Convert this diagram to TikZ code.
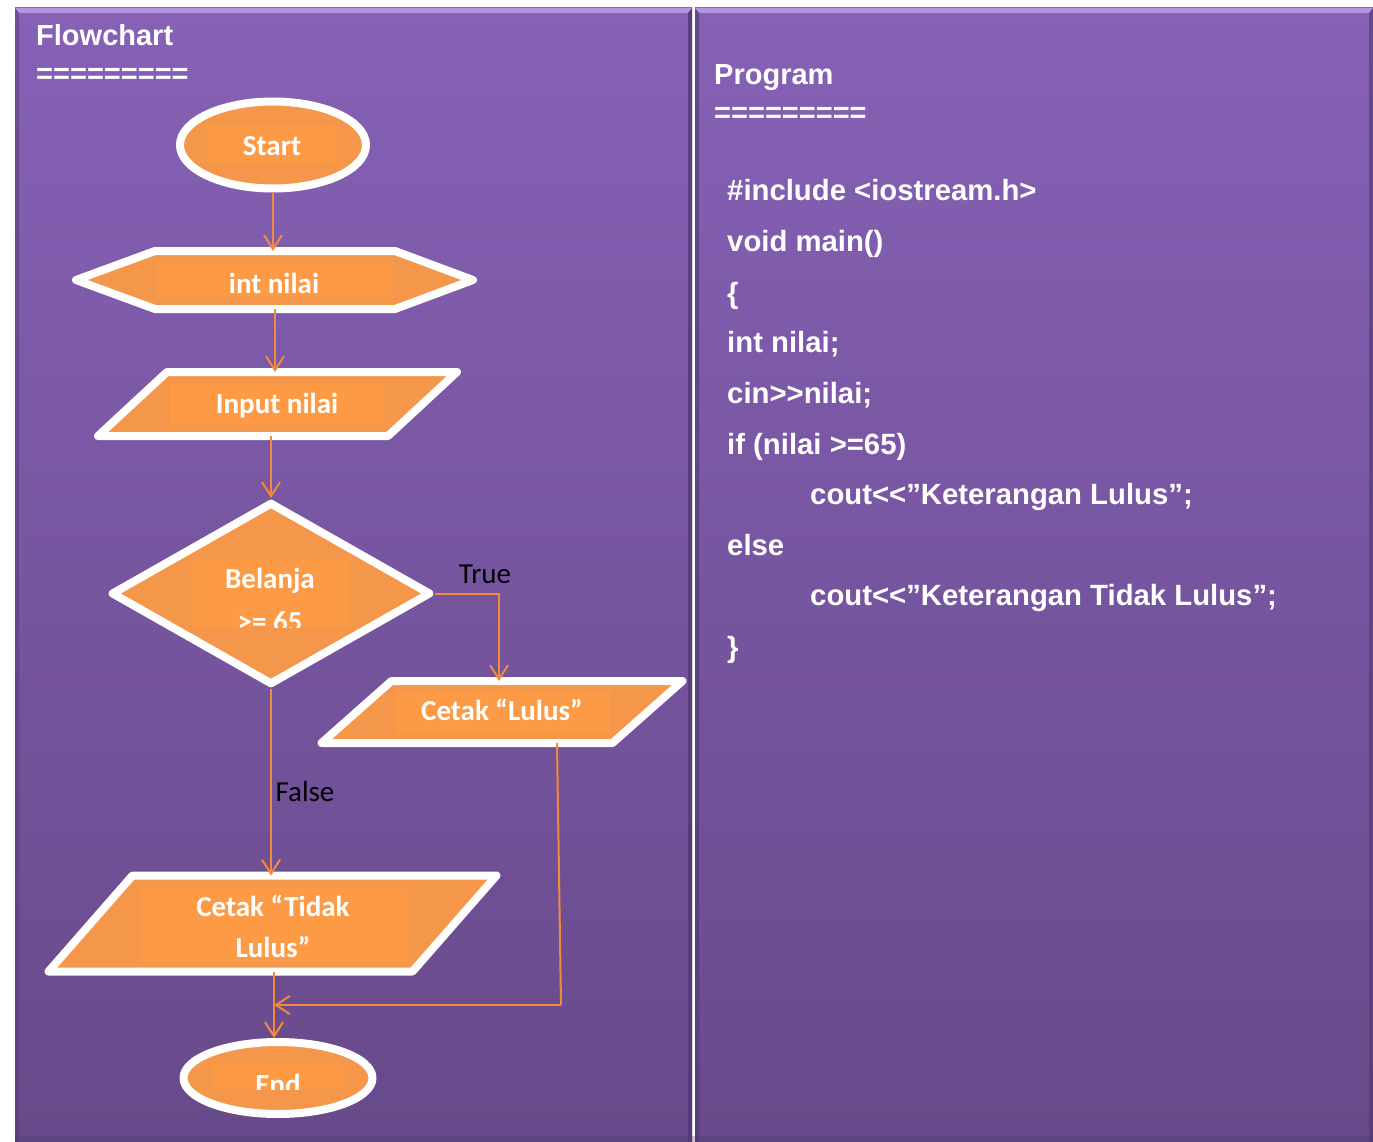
\documentclass[tikz,border=0pt]{standalone}
\usepackage{fontspec}
\setmainfont{Carlito}
\newfontfamily\codefont{Liberation Sans}
\usetikzlibrary{shapes.geometric,arrows.meta,calc}

\definecolor{panelTop}{HTML}{8661B6}
\definecolor{panelBot}{HTML}{674A8A}
\definecolor{panelEdge}{HTML}{4F3872}
\definecolor{bevel}{HTML}{B592E4}
\definecolor{shapeFill}{HTML}{F5974A}
\definecolor{boxFill}{HTML}{FC9A45}
\definecolor{flowLine}{HTML}{F3893A}

\pgfdeclarelayer{panel}
\pgfdeclarelayer{shapes}
\pgfsetlayers{panel,shapes,main}

\tikzset{
  outline/.style={draw=white, line width=8pt, fill=shapeFill, line join=round},
  body/.style={rectangle, inner sep=0pt, outer sep=0pt, draw=none},
  textbox/.style={fill=boxFill},
  flabel/.style={font=\fontsize{29}{34}\selectfont\bfseries, text=white,
    inner sep=0pt, text height=18.5pt, text depth=0pt},
  blabel/.style={font=\fontsize{29}{34}\selectfont, text=black,
    inner sep=0pt, text height=18.5pt, text depth=0pt},
  head/.style={font=\codefont\bfseries\fontsize{29}{34}\selectfont, text=white,
    anchor=west, inner sep=0pt, text height=20.5pt, text depth=0pt},
  code/.style={font=\codefont\bfseries\fontsize{29.3}{34}\selectfont, text=white,
    anchor=west, inner sep=0pt, text height=21pt, text depth=0pt},
  flow/.style={draw=flowLine, line width=2pt, -{Straight Barb[length=14pt,width=18pt]}},
  flowplain/.style={draw=flowLine, line width=2pt},
}

\begin{document}
\begin{tikzpicture}[x=1pt, y=-1pt]
\useasboundingbox (0,0) rectangle (1373,1142);

% ---- two panels ----
\begin{pgfonlayer}{panel}
  \fill[white] (0,0) rectangle (1373,1142);
  \shade[top color=panelTop, bottom color=panelBot] (15,8) rectangle (692,1142);
  \shade[top color=panelTop, bottom color=panelBot] (695,8) rectangle (1373,1142);
  % bevelled edges
  \fill[bevel] (15,8) -- (692,8) -- (688,13) -- (19,13) -- cycle;
  \fill[bevel] (695,8) -- (1373,8) -- (1369,13) -- (699,13) -- cycle;
  \fill[panelEdge, opacity=.45] (15,8) -- (19,13) -- (19,1142) -- (15,1142) -- cycle;
  \fill[panelEdge, opacity=.8] (688,13) -- (692,8) -- (692,1142) -- (688,1142) -- cycle;
  \fill[panelEdge, opacity=.6] (695,8) -- (699,13) -- (699,1142) -- (695,1142) -- cycle;
  \fill[panelEdge, opacity=.6] (1369,13) -- (1373,8) -- (1373,1142) -- (1369,1142) -- cycle;
  \fill[panelEdge, opacity=.3] (15,1136) rectangle (1373,1142);
\end{pgfonlayer}

% ---- headings ----
\node[head] (h-flow) at (36,35) {Flowchart};
\node[head] (h-flowrule) at (36,73) {=========};
\node[head] (h-prog) at (714,74) {Program};
\node[head] (h-progrule) at (714,112) {=========};

% ---- program listing ----
\node[code] (c1) at (727,190) {\#include <iostream.h>};
\node[code] (c2) at (727,241) {void main()};
\node[code] (c3) at (727,293) {\{};
\node[code] (c4) at (727,342) {int nilai;};
\node[code] (c5) at (727,393) {cin>>nilai;};
\node[code] (c6) at (727,444) {if (nilai >=65)};
\node[code] (c7) at (810,494) {cout<<”Keterangan Lulus”;};
\node[code] (c8) at (727,545) {else};
\node[code] (c9) at (810,595) {cout<<”Keterangan Tidak Lulus”;};
\node[code] (c10) at (727,647) {\}};

% ---- flowchart shapes ----
\node[ellipse, outline, minimum width=186pt, minimum height=87pt, inner sep=0pt] (start) at (273,145) {};
\node[body, minimum width=240pt, minimum height=58pt] (hex) at (275,280) {};
\node[body, minimum width=290pt, minimum height=64pt] (input) at (277.5,404) {};
\node[diamond, outline, minimum width=320pt, minimum height=183pt, inner sep=0pt] (cond) at (271,593.5) {};
\node[body, minimum width=291pt, minimum height=62pt] (lulus) at (502,712) {};
\node[body, minimum width=364pt, minimum height=96pt] (tidak) at (272.5,923.5) {};
\node[ellipse, outline, minimum width=189pt, minimum height=72pt, inner sep=0pt] (stop) at (278,1078) {};

\begin{pgfonlayer}{shapes}
  \draw[outline] (hex.north west) -- (hex.north east) -- ([xshift=78pt]hex.east)
    -- (hex.south east) -- (hex.south west) -- ([xshift=-79pt]hex.west) -- cycle;
  \draw[outline] ([xshift=34.5pt]input.north west) -- ([xshift=34.5pt]input.north east)
    -- ([xshift=-34.5pt]input.south east) -- ([xshift=-34.5pt]input.south west) -- cycle;
  \draw[outline] ([xshift=35pt]lulus.north west) -- ([xshift=35pt]lulus.north east)
    -- ([xshift=-35pt]lulus.south east) -- ([xshift=-35pt]lulus.south west) -- cycle;
  \draw[outline] ([xshift=42pt]tidak.north west) -- ([xshift=42pt]tidak.north east)
    -- ([xshift=-42pt]tidak.south east) -- ([xshift=-42pt]tidak.south west) -- cycle;
\end{pgfonlayer}

% text boxes inside the shapes
\fill[textbox] (207,126) rectangle (337,163);
\fill[textbox] (157,263) rectangle (392,297);
\fill[textbox] (170,384) rectangle (384,425);
\fill[textbox] (193,559) rectangle (349,627);
\fill[textbox] (396,691) rectangle (610,733);
\fill[textbox] (141,887) rectangle (407,962);
\fill[textbox] (213,1064) rectangle (344,1089);

% ---- shape texts ----
\node[flabel] (t-start) at (272,146) {Start};
\node[flabel] (t-hex) at (274,284) {int nilai};
\node[flabel] (t-input) at (277,404) {Input nilai};
\node[flabel] (t-cond1) at (270,579) {Belanja};
\begin{scope}
  \clip (193,559) rectangle (349,627);
  \node[flabel] (t-cond2) at (270,622) {>= 65};
\end{scope}
\node[flabel] (t-lulus) at (502,711) {Cetak “Lulus”};
\node[flabel] (t-tidak1) at (273,907) {Cetak “Tidak};
\node[flabel] (t-tidak2) at (273,948) {Lulus”};
\begin{scope}
  \clip (213,1064) rectangle (344,1089);
  \node[flabel] (t-stop) at (278,1085) {End};
\end{scope}

% ---- connectors ----
\coordinate (merge) at (274,1005);
\coordinate (bend) at (561,1005);
\draw[flow] (start.south) -- (start.south |- hex.north);
\draw[flow] (hex.south) -- (hex.south |- input.north);
\draw[flow] (cond.north |- input.south) -- (cond.north);
\draw[flow] (cond.east) -| ([xshift=-3pt]lulus.north);
\node[blabel] (t-true) at (485,574) {True};
\draw[flow] (cond.south) -- (cond.south |- tidak.north);
\node[blabel] (t-false) at (305,792) {False};
\draw[flowplain] ([xshift=55pt]lulus.south) -- (bend);
\draw[flow] (bend) -- (merge);
\draw[flow] (merge |- tidak.south) -- (merge |- stop.north);
\end{tikzpicture}
\end{document}
